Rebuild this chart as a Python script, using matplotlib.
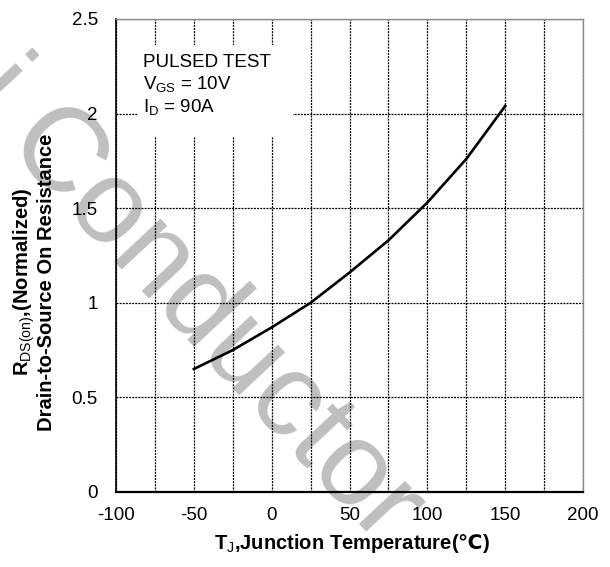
import numpy as np
import matplotlib
matplotlib.use("Agg")
import matplotlib.pyplot as plt
from matplotlib.patches import Rectangle

plt.rcParams["font.family"] = ["Liberation Sans", "DejaVu Sans"]
plt.rcParams["axes.unicode_minus"] = False
plt.rcParams["mathtext.fontset"] = "custom"
plt.rcParams["mathtext.rm"] = "Liberation Sans"
plt.rcParams["mathtext.it"] = "Liberation Sans:italic"
plt.rcParams["mathtext.bf"] = "Liberation Sans:bold"
plt.rcParams["mathtext.sf"] = "DejaVu Sans:bold"

# normalized Rds(on) vs junction temperature
temp_c = [-50, -25, 0, 25, 50, 75, 100, 125, 150]
rds_norm = [0.65, 0.75, 0.87, 1.00, 1.16, 1.33, 1.53, 1.76, 2.04]

x_ticks = [-100, -50, 0, 50, 100, 150, 200]
x_minor = [-75, -25, 25, 75, 125, 175]
y_ticks = [0, 0.5, 1, 1.5, 2, 2.5]
y_labels = ["0", "0.5", "1", "1.5", "2", "2.5"]

info_lines = ["PULSED TEST", r"V$_{\mathrm{GS}}$ = 10V", r"I$_{\mathrm{D}}$ = 90A"]

fig = plt.figure(figsize=(6.1, 5.67), dpi=100)
fig.patch.set_facecolor("white")

# watermark sits behind the axes
fig.text(0.622, 0.036, "Semi Conductor", fontsize=86, color="#bfbfbf",
         ha="right", va="baseline", rotation=-47, rotation_mode="anchor",
         zorder=-1)

ax = fig.add_axes([0.1902, 0.1323, 0.7656, 0.8342])
ax.set_facecolor("none")

ax.plot(temp_c, rds_norm, color="black", lw=1.9, zorder=4)

ax.set_xlim(-100, 200)
ax.set_ylim(0, 2.5)
ax.set_xticks(x_ticks)
ax.set_xticks(x_minor, minor=True)
ax.set_yticks(y_ticks, y_labels)
ax.grid(which="both", color="black", lw=0.9, ls=(0, (1.6, 0.9)))
ax.set_axisbelow(True)
ax.tick_params(which="both", length=0, labelsize=13.5)
ax.tick_params(axis="y", pad=13)
ax.tick_params(axis="x", pad=11)

for side in ["top", "right"]:
    ax.spines[side].set_color("#8a8a8a")
    ax.spines[side].set_linewidth(1.0)
ax.spines["left"].set_linewidth(1.2)
ax.spines["bottom"].set_linewidth(1.6)

# white box behind the test conditions
ax.add_patch(Rectangle((0.045, 0.7505), 0.334, 0.1945, transform=ax.transAxes,
                       facecolor="white", edgecolor="none", zorder=2))
for txt, yb in zip(info_lines, [0.8985, 0.852, 0.803]):
    ax.text(0.0578, yb, txt, transform=ax.transAxes, fontsize=13.5,
            ha="left", va="baseline", zorder=5)

ax.set_ylabel(r"R$_{\mathrm{DS(on)}}$,(Normalized)" + "\n" + "Drain-to-Source On Resistance",
              fontsize=14.5, fontweight="bold", linespacing=1.0)
ax.yaxis.set_label_coords(-0.128, 0.444)
ax.set_xlabel(r"T$_{\mathrm{J}}$,Junction Temperature($\mathsf{℃}$)",
              fontsize=14.5, fontweight="bold")
ax.xaxis.set_label_coords(0.505, -0.085)

plt.savefig("out.png", dpi=100)
